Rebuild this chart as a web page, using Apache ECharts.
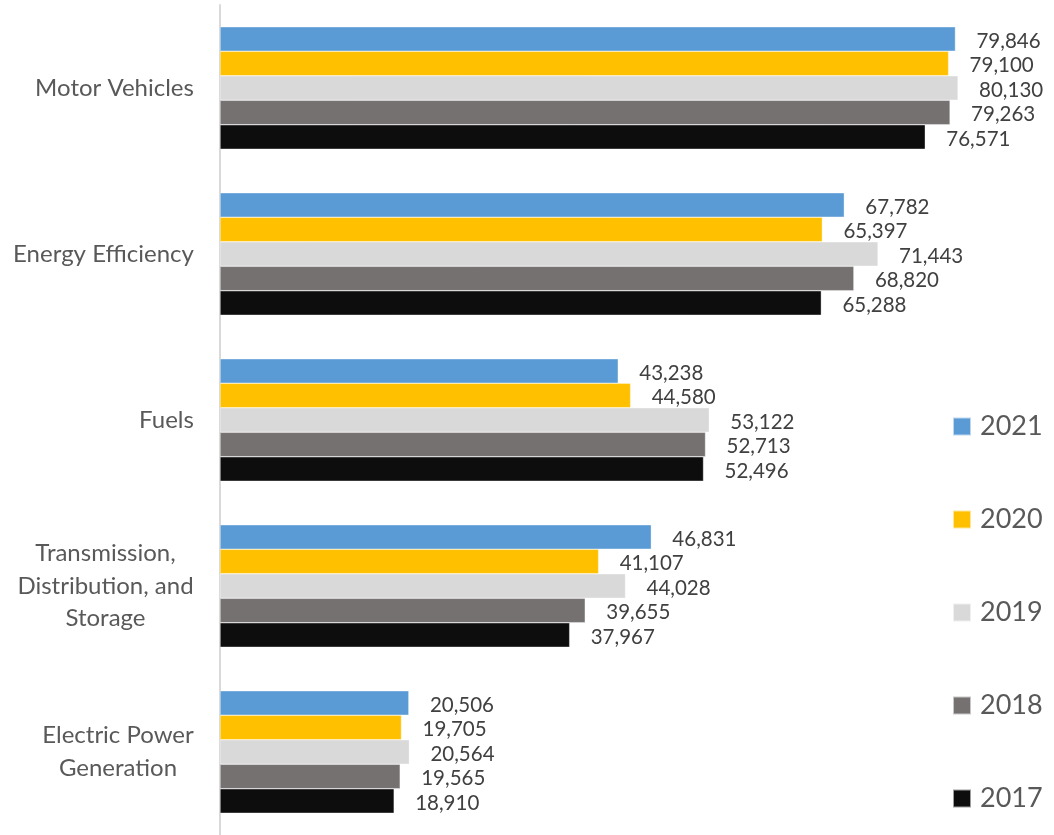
<!DOCTYPE html>
<html>
<head>
<meta charset="utf-8">
<script src="https://cdn.jsdelivr.net/npm/echarts@6/dist/echarts.min.js"></script>
<style>
  html, body { margin: 0; padding: 0; background: #fff; }
  #chart { width: 1054px; height: 835px; }
</style>
</head>
<body>
<div id="chart"></div>
<script>
// Sectors, listed top to bottom
const categories = [
  'Motor Vehicles',
  'Energy Efficiency',
  'Fuels',
  'Transmission,\nDistribution, and\nStorage',
  'Electric Power\nGeneration'
];

// Yearly totals per sector
const years = ['2021', '2020', '2019', '2018', '2017'];
const values2021 = [79846, 67782, 43238, 46831, 20506];
const values2020 = [79100, 65397, 44580, 41107, 19705];
const values2019 = [80130, 71443, 53122, 44028, 20564];
const values2018 = [79263, 68820, 52713, 39655, 19565];
const values2017 = [76571, 65288, 52496, 37967, 18910];

const seriesValues = [values2021, values2020, values2019, values2018, values2017];
const colors = ['#5B9BD5', '#FFC000', '#D9D9D9', '#767171', '#0D0D0D'];

const FONT = 'Lato, "Open Sans", sans-serif';
const CAT_SIZE = 24;

// Multi-line category names: each line centred within the block, block right-aligned to the axis
const measureCtx = document.createElement('canvas').getContext('2d');
measureCtx.font = CAT_SIZE + 'px ' + FONT;
const catRich = {};
categories.forEach((c, i) => {
  const w = Math.max(...c.split('\n').map(s => measureCtx.measureText(s).width));
  catRich['c' + i] = {
    width: Math.ceil(w),
    align: 'center',
    fontFamily: FONT,
    fontSize: CAT_SIZE,
    color: '#595959',
    lineHeight: 32.5
  };
});

const chart = echarts.init(document.getElementById('chart'), null, { renderer: 'canvas' });

chart.setOption({
  animation: false,
  backgroundColor: '#ffffff',
  textStyle: { fontFamily: FONT },
  grid: { left: 220, right: 5, top: 5, bottom: 0, containLabel: false },
  legend: {
    orient: 'vertical',
    left: 952,
    top: 413,
    padding: 0,
    itemWidth: 18,
    itemHeight: 18,
    itemGap: 66,
    icon: 'rect',
    data: years,
    textStyle: { fontFamily: FONT, fontSize: 27, color: '#595959', lineHeight: 26, padding: [0, 0, 0, 4] }
  },
  xAxis: {
    type: 'value',
    min: 0,
    max: 90000,
    show: false,
    splitLine: { show: false }
  },
  yAxis: {
    type: 'category',
    inverse: true,
    data: categories,
    axisLine: { show: true, lineStyle: { color: '#D9D9D9', width: 2 } },
    axisTick: { show: false },
    axisLabel: {
      margin: 26,
      fontFamily: FONT,
      fontSize: CAT_SIZE,
      color: '#595959',
      lineHeight: 32.5,
      align: 'right',
      formatter: (value, index) => value.split('\n').map(s => '{c' + index + '|' + s + '}').join('\n'),
      rich: catRich
    }
  },
  series: years.map((y, i) => ({
    name: y,
    type: 'bar',
    data: seriesValues[i],
    barGap: '0%',
    barCategoryGap: '26.2%',
    itemStyle: { color: colors[i], borderColor: 'rgba(255,255,255,0.6)', borderWidth: 0.6 },
    label: {
      show: true,
      position: 'right',
      distance: 21,
      offset: [0, 2],
      fontFamily: FONT,
      fontSize: 20.5,
      color: '#404040',
      formatter: p => p.value.toLocaleString('en-US')
    }
  }))
});
</script>
</body>
</html>
